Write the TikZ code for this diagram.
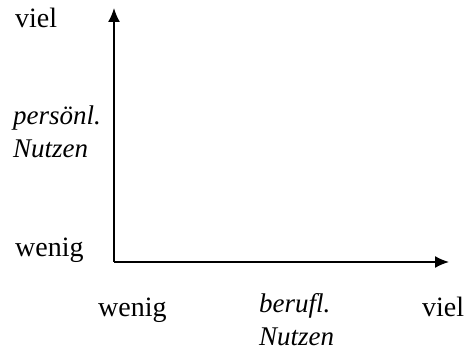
\documentclass[tikz,border=0pt]{standalone}
\usepackage{fontspec}
\setmainfont{Liberation Serif}
\usetikzlibrary{arrows.meta,positioning}
\tikzset{
  lbl/.style={inner sep=0pt, anchor=base west, font=\fontsize{28}{33}\selectfont, align=left},
  ilbl/.style={lbl, font=\fontsize{27}{33}\selectfont\itshape},
  axis/.style={-{Latex[length=14pt,width=12pt]}, line width=1.6pt, draw=black}
}
\begin{document}
\begin{tikzpicture}[x=1pt, y=-1pt]
  \useasboundingbox (0,0) rectangle (465,352);
  \coordinate (o) at (114,262);
  \coordinate (ytip) at (114,8);
  \coordinate (xtip) at (449,262);
  \draw[axis] (o) -- (ytip);
  \draw[axis] (o) -- (xtip);
  \node[lbl] (yhigh) at (15,28) {viel};
  \node[ilbl] (ytitle) at (13,158) {persönl.\\Nutzen};
  \node[lbl] (ylow) at (15,257) {wenig};
  \node[lbl] (xlow) at (98,316) {wenig};
  \node[ilbl] (xtitle) at (259,345) {berufl.\\Nutzen};
  \node[lbl] (xhigh) at (422,316) {viel};
\end{tikzpicture}
\end{document}
